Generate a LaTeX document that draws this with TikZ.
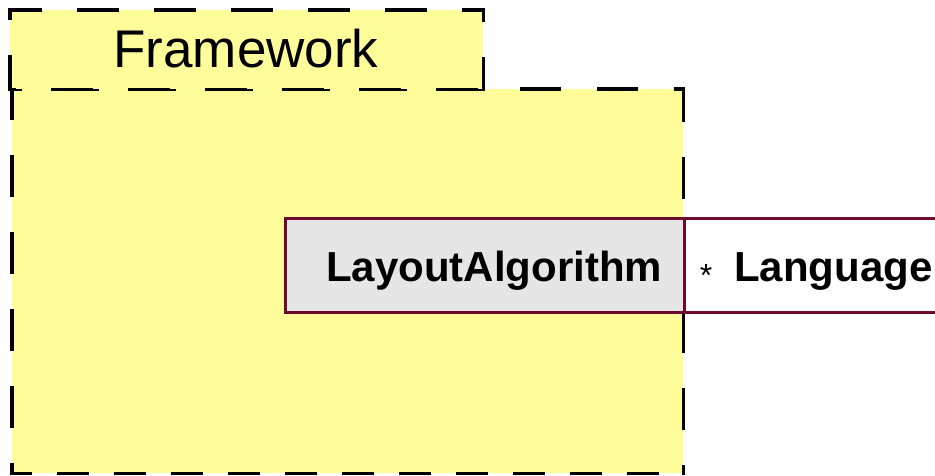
\documentclass[tikz,border=0pt]{standalone}
\usepackage{fontspec}
\setmainfont{Liberation Sans}
\definecolor{pkgfill}{RGB}{255,253,153}
\definecolor{clsline}{RGB}{110,10,50}
\definecolor{clsfill}{RGB}{230,230,230}
\tikzset{
  pkgbox/.style={fill=pkgfill, inner sep=0pt, anchor=north west},
  side/.style={draw=black, line width=3.5pt, line cap=rect, dash pattern=on 38pt off 39pt},
  clsbox/.style={draw=clsline, line width=2.5pt, inner sep=0pt, anchor=north west},
  lbl/.style={inner sep=0pt, anchor=base}
}
\begin{document}
\begin{tikzpicture}[x=1pt,y=-1pt]
\useasboundingbox (0,0) rectangle (935,476);
% package body
\node[pkgbox, minimum width=671pt, minimum height=384pt] (body) at (12,89) {};
\draw[side, dash phase=9pt] (body.north west) -- (body.south west);
\draw[side, dash pattern=on 28pt off 29pt, dash phase=10pt] (body.south west) -- (body.south east);
\draw[side, dash phase=7pt] (body.north east) -- (body.south east);
\draw[side, dash phase=30pt] (body.north east) -- (body.north west);
% package tab
\node[pkgbox, minimum width=473pt, minimum height=79pt] (tab) at (10,10) {};
\draw[side, dash phase=8pt] (tab.north west) -- (tab.north east);
\draw[side, dash phase=30pt] (tab.north west) -- (tab.south west);
\draw[side, dash phase=28pt] (tab.north east) -- (tab.south east);
\draw[side, dash phase=34pt] (tab.south west) -- (tab.south east);
\node[lbl, font=\fontsize{53}{60}\selectfont] (fw) at (246,68) {Framework};
% classes
\node[clsbox, fill=clsfill, minimum width=399pt, minimum height=94pt] (la) at (284,217) {};
\node[clsbox, fill=white, minimum width=270pt, minimum height=94pt] (lang) at (683,217) {};
\node[lbl, font=\fontsize{42}{48}\selectfont\bfseries] (latext) at (494,281) {LayoutAlgorithm};
\node[lbl, anchor=base west, font=\fontsize{42}{48}\selectfont\bfseries] (langtext) at (734,281) {Language};
\node[inner sep=0pt, font=\fontsize{32}{36}\selectfont] (star) at (706,275) {*};
\end{tikzpicture}
\end{document}
